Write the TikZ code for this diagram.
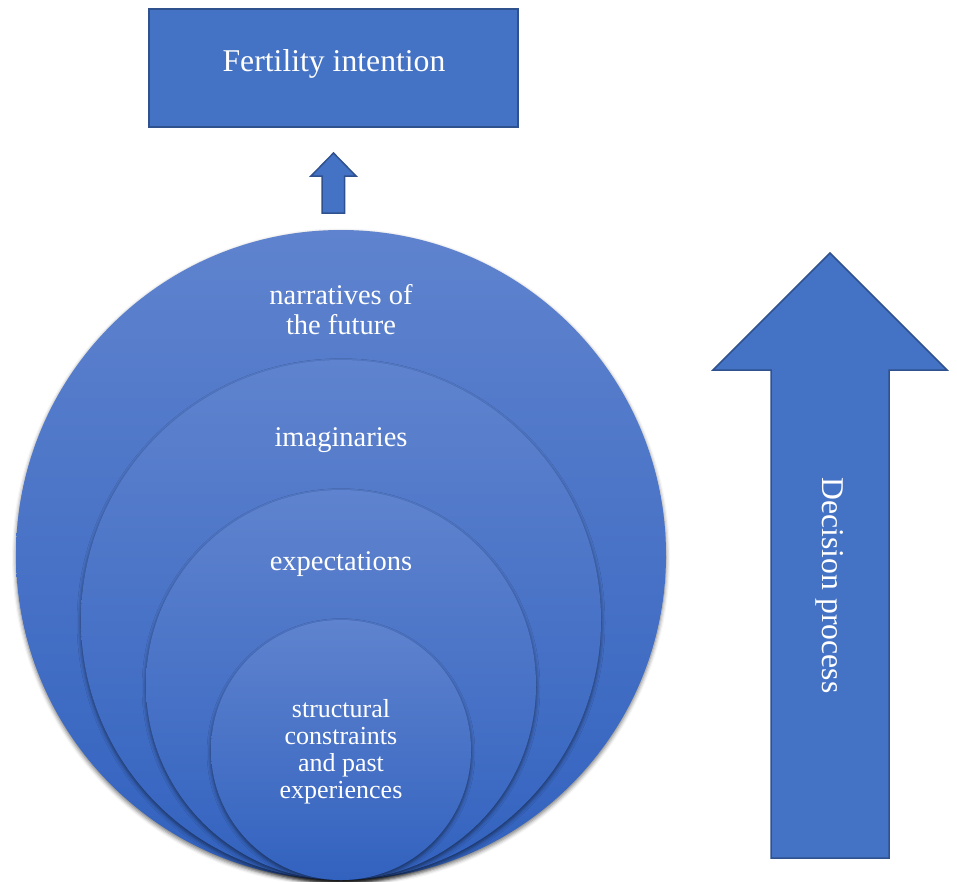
\documentclass[tikz,border=0pt]{standalone}
\usepackage{fontspec}
\setmainfont{Liberation Serif}
\usetikzlibrary{shadows.blur}

\definecolor{boxblue}{HTML}{4472C4}
\definecolor{edgeblue}{HTML}{2F528F}
\definecolor{ringtop}{HTML}{5F83CE}
\definecolor{ringbot}{HTML}{3262BF}

\tikzset{
  ring/.style={circle, inner sep=0pt, draw=none,
    top color=ringtop, bottom color=ringbot,
    blur shadow={shadow xshift=0pt, shadow yshift=-2.5pt,
                 shadow blur radius=4pt, shadow opacity=55}},
  blockshape/.style={fill=boxblue, draw=edgeblue, line width=1.5pt, line join=miter},
  ringlabel/.style={text=white, inner sep=0pt, anchor=base,
    font=\fontsize{28.5}{30}\selectfont},
  corelabel/.style={text=white, inner sep=0pt, anchor=base,
    font=\fontsize{26}{27}\selectfont},
  biglabel/.style={text=white, inner sep=0pt,
    font=\fontsize{31.7}{38}\selectfont},
}

\begin{document}
\begin{tikzpicture}[x=1pt, y=-1pt]
  \useasboundingbox (0,0) rectangle (957,881);

  % nested circles, all touching at the bottom
  \node[ring, minimum size=650pt] (narr) at (341,555) {};
  \node[ring, minimum size=520pt] (imag) at (341,620) {};
  \node[ring, minimum size=390pt] (expe) at (341,685) {};
  \node[ring, minimum size=260pt] (core) at (341,750) {};

  % circle labels
  \node[ringlabel] (narrA) at (341,304) {narratives of};
  \node[ringlabel] (narrB) at (341,334) {the future};
  \node[ringlabel] (imagL) at (341,446) {imaginaries};
  \node[ringlabel] (expeL) at (341,570) {expectations};
  \node[corelabel] (coreA) at (341,717) {structural};
  \node[corelabel] (coreB) at (341,744) {constraints};
  \node[corelabel] (coreC) at (341,771) {and past};
  \node[corelabel] (coreD) at (341,798) {experiences};

  % outcome box
  \node[blockshape, minimum width=369pt, minimum height=118pt, inner sep=0pt]
    (intent) at (333.5,68) {};
  \node[biglabel, anchor=base] (intentL) at (334,71) {Fertility intention};

  % small block arrow towards the box
  \draw[blockshape] (322,213) -- (322,176) -- (311,176) -- (333.5,153)
    -- (356,176) -- (344.5,176) -- (344.5,213) -- cycle;

  % large block arrow on the right
  \draw[blockshape] (771,858) -- (771,370) -- (713,370) -- (830,253)
    -- (947,370) -- (889,370) -- (889,858) -- cycle;
  \node[biglabel, rotate=-90] (decision) at (830,585.5) {Decision process};
\end{tikzpicture}
\end{document}
